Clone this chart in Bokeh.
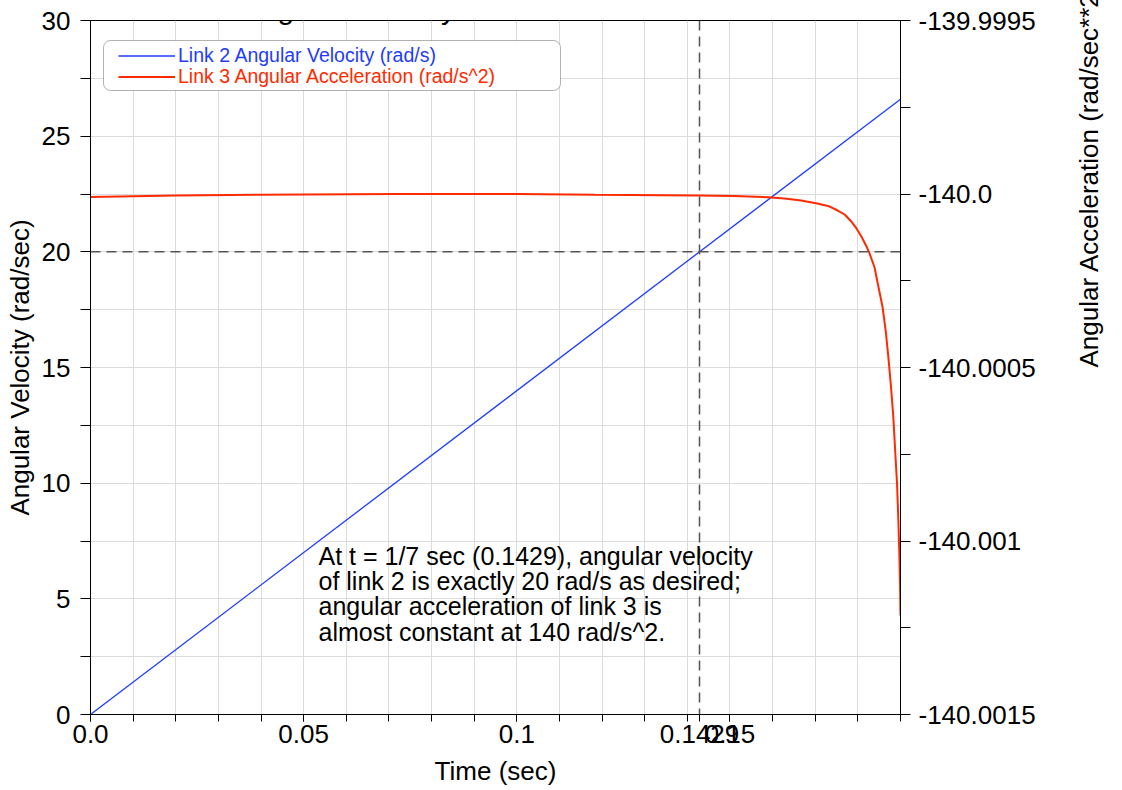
import math
from bokeh.plotting import figure
from bokeh.models import (Range1d, LinearAxis, FixedTicker, SingleIntervalTicker, Span,
                          Label, Legend, LegendItem, BoxAnnotation)
from bokeh.embed import file_html
from bokeh.resources import INLINE

# ---------------- data ----------------
title_text = "Angular Velocity of Link 2 shown also"
x_label = "Time (sec)"
y_label = "Angular Velocity (rad/sec)"
y2_label = "Angular Acceleration (rad/sec**2)"
vel_name = "Link 2 Angular Velocity (rad/s)"
acc_name = "Link 3 Angular Acceleration (rad/s^2)"
note_text = ("At t = 1/7 sec (0.1429), angular velocity\n"
             "of link 2 is exactly 20 rad/s as desired;\n"
             "angular acceleration of link 3 is\n"
             "almost constant at 140 rad/s^2.")

t_vel = [0.0, 0.19]
w2 = [0.0, 26.6]

t_acc = [0.0, 0.0200, 0.0395, 0.0719, 0.0998, 0.1183, 0.1425, 0.1510, 0.1589,
         0.1628, 0.1667, 0.1702, 0.1730, 0.1753, 0.1769, 0.1784, 0.1796, 0.1808,
         0.1820, 0.1827, 0.1839, 0.1850, 0.1858, 0.1866, 0.18715, 0.18778,
         0.18832, 0.18879, 0.18919, 0.18950, 0.18973, 0.18989, 0.1900]
alpha3 = [-140.0000087, -140.0000043, -140.0000023, -140.0000000, -140.0000000,
          -140.0000023, -140.0000040, -140.0000055, -140.0000092, -140.0000130,
          -140.0000187, -140.0000265, -140.0000343, -140.0000476, -140.0000591,
          -140.0000784, -140.0000977, -140.0001216, -140.0001504, -140.0001697,
          -140.0002110, -140.0002781, -140.0003262, -140.0004020, -140.0004703,
          -140.0005568, -140.0006432, -140.0007487, -140.0008352, -140.0009409,
          -140.0010369, -140.0011233, -140.0012147]

t_marker = 1 / 7
w_marker = 20.0

x_ticks = [0.0, 0.05, 0.1, 1 / 7, 0.15]
x_tick_labels = ["0.0", "0.05", "0.1", "0.1429", "0.15"]
x_minor = [0.0, 0.01, 0.02, 0.03, 0.04, 0.05, 0.06, 0.07, 0.08, 0.09, 0.1,
           0.11, 0.12, 0.13, 0.14, 0.15, 0.16, 0.17, 0.18, 0.19]
y_ticks = [0, 5, 10, 15, 20, 25, 30]
y_minor = [2.5, 7.5, 12.5, 17.5, 22.5, 27.5]
y2_ticks = [-140.0015, -140.001, -140.0005, -140.0, -139.9995]
y2_tick_labels = ["-140.0015", "-140.001", "-140.0005", "-140.0", "-139.9995"]
y2_minor = [-140.00125, -140.00075, -140.00025, -139.99975]

# ---------------- styles ----------------
FONT = "Liberation Sans"
BLUE = "#1f3cff"
RED = "#ff2a00"

p = figure(width=1122, height=800, output_backend="svg", toolbar_location=None,
           x_range=Range1d(0.0, 0.19), y_range=Range1d(0, 30),
           min_border_left=90, min_border_right=222, min_border_top=32, min_border_bottom=74)
p.styles = {"position": "absolute", "top": "-12px", "left": "0px",
            "width": "1122px", "height": "800px"}
p.outline_line_color = "black"
p.outline_line_alpha = 1.0
p.background_fill_color = "white"

p.extra_y_ranges = {"acc": Range1d(-140.0015, -139.9995)}

# grids
p.xgrid.ticker = SingleIntervalTicker(interval=0.01, num_minor_ticks=0)
p.ygrid.ticker = SingleIntervalTicker(interval=2.5, num_minor_ticks=0)
for g in (p.xgrid, p.ygrid):
    g.grid_line_color = "#dcdcdc"
    g.grid_line_width = 1

def style_axis(ax):
    ax.axis_line_color = "black"
    ax.major_tick_line_color = "black"
    ax.minor_tick_line_color = "black"
    ax.major_tick_in = 0
    ax.minor_tick_in = 0
    ax.major_label_text_font = FONT
    ax.major_label_text_font_size = "26px"
    ax.major_label_text_color = "black"
    ax.axis_label_text_font = FONT
    ax.axis_label_text_font_size = "26px"
    ax.axis_label_text_font_style = "normal"
    ax.axis_label_text_color = "black"

# bottom axis
xa = p.xaxis[0]
xa.ticker = FixedTicker(ticks=x_ticks, minor_ticks=x_minor)
xa.major_label_overrides = dict(zip(x_ticks, x_tick_labels))
xa.axis_label = x_label
style_axis(xa)
xa.major_tick_out = 7
xa.minor_tick_out = 7
xa.major_label_standoff = 3
xa.axis_label_standoff = 10

# left axis
ya = p.yaxis[0]
ya.ticker = FixedTicker(ticks=y_ticks, minor_ticks=y_minor)
ya.axis_label = y_label
style_axis(ya)
ya.major_tick_out = 10
ya.minor_tick_out = 10
ya.major_label_standoff = 10
ya.axis_label_standoff = 4

# right axis, title reading bottom-to-top
ra = LinearAxis(y_range_name="acc", axis_label=y2_label,
                ticker=FixedTicker(ticks=y2_ticks, minor_ticks=y2_minor))
ra.major_label_overrides = dict(zip(y2_ticks, y2_tick_labels))
style_axis(ra)
ra.major_tick_out = 10
ra.minor_tick_out = 10
ra.major_label_standoff = 8
ra.axis_label_standoff = 50
ra.axis_label_orientation = math.pi / 2
ra.axis_label_text_align = "center"
ra.axis_label_text_baseline = "middle"
p.add_layout(ra, "right")

# dashed markers
p.add_layout(Span(location=t_marker, dimension="height", line_color="#555555",
                  line_width=1.5, line_dash="10 6"))
p.add_layout(Span(location=w_marker, dimension="width", line_color="#555555",
                  line_width=1.5, line_dash="10 6"))

# series
r_vel = p.line(t_vel, w2, line_color=BLUE, line_width=1.3)
r_acc = p.line(t_acc, alpha3, y_range_name="acc", line_color=RED, line_width=2)

# legend frame + entries
p.add_layout(BoxAnnotation(left=13, right=470, top=674, bottom=624,
                           left_units="screen", right_units="screen",
                           top_units="screen", bottom_units="screen",
                           fill_color="white", fill_alpha=1.0,
                           line_color="black", line_width=1, border_radius=7))

def make_legend(label, rend, color, y):
    lg = Legend(items=[LegendItem(label=label, renderers=[rend])], location=(28, y),
                padding=0, margin=0, spacing=0, glyph_width=57, glyph_height=21,
                label_height=21, label_standoff=3, border_line_alpha=0,
                background_fill_alpha=0, label_text_font=FONT,
                label_text_font_size="19.5px", label_text_color=color)
    p.add_layout(lg)

make_legend(vel_name, r_vel, BLUE, 647)
make_legend(acc_name, r_acc, RED, 626)

# title (partly above the page edge, as in the reference)
p.add_layout(Label(x=398, y=706, x_units="screen", y_units="screen", text=title_text,
                   text_font=FONT, text_font_size="30px", text_align="center",
                   text_baseline="alphabetic", text_color="black"))

# note
p.add_layout(Label(x=228, y=173, x_units="screen", y_units="screen", text=note_text,
                   text_font=FONT, text_font_size="25px", text_align="left",
                   text_baseline="top", text_color="black", text_line_height=0.91))

open("out.html", "w").write(file_html(p, INLINE))
